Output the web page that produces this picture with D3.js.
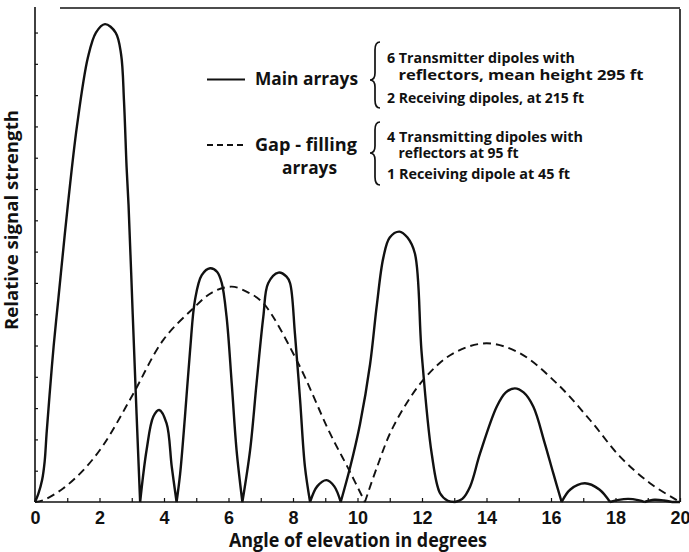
<!DOCTYPE html>
<html>
<head>
<meta charset="utf-8">
<script src="https://cdn.jsdelivr.net/npm/d3@7/dist/d3.min.js"></script>
<style>
  html, body { margin: 0; padding: 0; background: #fff; }
  svg { display: block; }
  text { fill: #111; }
</style>
</head>
<body>
<svg id="chart" width="689" height="552"></svg>
<script>
// ---- data ----
const xTickValues = d3.range(0, 21, 1);
const xTickLabels = [0, 2, 4, 6, 8, 10, 12, 14, 16, 18, 20];
const yTickValues = d3.range(1, 16, 1);

// Main arrays (solid)
const mainX = [0, 0.1, 0.22, 0.3, 0.36, 0.45, 0.58, 0.72, 0.87, 1.02, 1.3, 1.64, 1.89, 2.17, 2.5, 2.67, 2.76, 2.84, 2.9, 3.03, 3.15, 3.26,
  3.46, 3.67, 3.85, 4.08, 4.24, 4.39,
  4.5, 4.65, 4.81, 4.96, 5.17, 5.43, 5.65, 5.79, 5.94, 6.1, 6.25, 6.43,
  6.67, 6.87, 7.08, 7.23, 7.55, 7.8, 7.91, 8.06, 8.22, 8.37, 8.53,
  8.75, 9.04, 9.28, 9.48,
  9.77, 10.08, 10.39, 10.6, 10.8, 11.0, 11.3, 11.55, 11.78, 11.99, 12.3, 12.56, 12.8, 13.02,
  13.25, 13.49, 13.8, 14.32, 14.6, 14.88, 15.15, 15.45, 15.8, 16.07, 16.33,
  16.6, 17.05, 17.5, 17.83,
  18.1, 18.4, 18.7, 18.9,
  19.2, 19.5, 19.75, 20];
const mainY = [0, 0.25, 0.7, 1.3, 2.2, 3.4, 5.0, 6.45, 8.0, 9.5, 12.0, 14.2, 15.0, 15.27, 15.0, 14.3, 12.8, 10.7, 9.5, 6.0, 2.8, 0,
  1.66, 2.73, 2.94, 2.51, 1.13, 0,
  0.9, 2.73, 4.86, 6.45, 7.25, 7.47, 7.35, 7.0, 5.92, 3.79, 1.66, 0,
  1.66, 3.79, 5.92, 6.99, 7.33, 7.2, 6.99, 5.38, 3.26, 1.13, 0,
  0.5, 0.7, 0.5, 0,
  1.1, 2.5, 4.4, 6.3, 7.8, 8.45, 8.64, 8.45, 7.94, 4.75, 1.55, 0.28, 0.04, 0,
  0.1, 0.49, 1.55, 3.05, 3.5, 3.63, 3.5, 3.05, 1.9, 0.92, 0,
  0.4, 0.6, 0.4, 0,
  0.07, 0.1, 0.06, 0,
  0.07, 0.05, 0, 0];

// Gap-filling arrays (dashed)
const gapX = [0, 0.26, 0.88, 1.5, 2.12, 3.0, 3.98, 4.91, 5.5, 6.1, 6.6, 7.08, 8.11, 9.15, 9.7, 10.23,
  10.6, 11.11, 12.04, 12.97, 14.0, 15.04, 16.18, 17.21, 18.14, 19.07, 19.9, 20];
const gapY = [0, 0.06, 0.44, 1.02, 1.82, 3.37, 5.18, 6.19, 6.7, 6.88, 6.7, 6.35, 4.54, 2.19, 1.1, 0,
  1.1, 2.41, 3.9, 4.75, 5.07, 4.75, 3.79, 2.62, 1.45, 0.6, 0.06, 0];

// ---- layout ----
const svg = d3.select("#chart");
const mLeft = 35, mRight = 680, mBottom = 502, mTop = 7.5;
const x = d3.scaleLinear().domain([0, 20]).range([mLeft, mRight]);
const y = d3.scaleLinear().domain([0, 15.8]).range([mBottom, mTop]);

// frame
const frame = svg.append("g").attr("stroke", "#111").attr("stroke-width", 1.6).attr("fill", "none");
frame.append("line").attr("x1", mLeft).attr("x2", mLeft).attr("y1", 7).attr("y2", mBottom);
frame.append("line").attr("x1", mLeft).attr("x2", mRight).attr("y1", mBottom).attr("y2", mBottom);
frame.append("line").attr("x1", mRight).attr("x2", mRight).attr("y1", 9).attr("y2", mBottom);
frame.append("line").attr("x1", 60).attr("x2", mRight).attr("y1", 8).attr("y2", 8);

// x axis
const xAxis = d3.axisBottom(x)
  .tickValues(xTickValues)
  .tickSizeInner(-4).tickSizeOuter(0).tickPadding(9)
  .tickFormat(d => xTickLabels.includes(d) ? String(d) : "");
const gx = svg.append("g").attr("transform", `translate(0,${mBottom})`).call(xAxis);
gx.select(".domain").remove();
gx.selectAll(".tick line").attr("stroke", "#111").attr("stroke-width", 1.2);
gx.selectAll(".tick text")
  .attr("font-family", "'Liberation Sans', Arial, sans-serif")
  .attr("font-weight", "bold").attr("font-size", 18).attr("fill", "#111");

// y axis (ticks only)
const yAxis = d3.axisLeft(y).tickValues(yTickValues).tickSizeInner(-3).tickSizeOuter(0).tickFormat("");
const gy = svg.append("g").attr("transform", `translate(${mLeft},0)`).call(yAxis);
gy.select(".domain").remove();
gy.selectAll(".tick line").attr("stroke", "#111").attr("stroke-width", 1.2);

// axis titles
svg.append("text")
  .attr("x", 229).attr("y", 546.5)
  .attr("font-family", "'Open Sans', 'Liberation Sans', sans-serif")
  .attr("font-weight", 700).attr("font-size", 19)
  .attr("textLength", 258).attr("lengthAdjust", "spacingAndGlyphs")
  .text("Angle of elevation in degrees");
svg.append("text")
  .attr("transform", "translate(18,330) rotate(-90)")
  .attr("font-family", "'Open Sans', 'Liberation Sans', sans-serif")
  .attr("font-weight", 700).attr("font-size", 18)
  .attr("textLength", 220).attr("lengthAdjust", "spacingAndGlyphs")
  .text("Relative signal strength");

// curves: split at zero points so cusps stay sharp
function segments(xs, ys) {
  const segs = [];
  let cur = [[xs[0], ys[0]]];
  for (let i = 1; i < xs.length; i++) {
    cur.push([xs[i], ys[i]]);
    if (ys[i] === 0 && i < xs.length - 1) { segs.push(cur); cur = [[xs[i], ys[i]]]; }
  }
  if (cur.length > 1) segs.push(cur);
  return segs;
}
const line = d3.line().x(d => x(d[0])).y(d => y(d[1])).curve(d3.curveCatmullRom.alpha(0.5));

svg.append("path")
  .attr("d", segments(gapX, gapY).map(s => line(s)).join(""))
  .attr("fill", "none").attr("stroke", "#111").attr("stroke-width", 1.9)
  .attr("stroke-dasharray", "8,5");

svg.append("path")
  .attr("d", segments(mainX, mainY).map(s => line(s)).join(""))
  .attr("fill", "none").attr("stroke", "#111").attr("stroke-width", 2.4)
  .attr("stroke-linejoin", "round");

// legend
const lg = svg.append("g");
const lf = "'Open Sans', 'Liberation Sans', sans-serif";
lg.append("line").attr("x1", 207).attr("x2", 245).attr("y1", 79.5).attr("y2", 79.5)
  .attr("stroke", "#111").attr("stroke-width", 2.2);
lg.append("line").attr("x1", 207).attr("x2", 245).attr("y1", 145).attr("y2", 145)
  .attr("stroke", "#111").attr("stroke-width", 1.8).attr("stroke-dasharray", "6,4");

function ltext(tx, ty, size, weight, len, str) {
  lg.append("text").attr("x", tx).attr("y", ty)
    .attr("font-family", lf).attr("font-weight", weight).attr("font-size", size)
    .attr("textLength", len).attr("lengthAdjust", "spacingAndGlyphs")
    .text(str);
}
ltext(255, 85, 18, 700, 103, "Main arrays");
ltext(255, 151, 18, 700, 102, "Gap - filling");
ltext(282, 173.5, 18, 700, 55, "arrays");

ltext(387, 62.7, 14, 700, 188, "6 Transmitter dipoles with");
ltext(398.5, 80, 14, 700, 245, "reflectors, mean height 295 ft");
ltext(387, 103.3, 14, 700, 197, "2 Receiving dipoles, at 215 ft");
ltext(387, 141.7, 14, 700, 196, "4 Transmitting dipoles with");
ltext(398.5, 157.7, 14, 700, 120, "reflectors at 95 ft");
ltext(387, 179.3, 14, 700, 183, "1 Receiving dipole at 45 ft");

// braces
function brace(xTip, y0, yMid, y1) {
  const xl = xTip + 5, xr = xTip + 10;
  return `M${xr},${y0} Q${xl},${y0} ${xl},${y0 + 8} L${xl},${yMid - 7} Q${xl},${yMid} ${xTip},${yMid}` +
         ` Q${xl},${yMid} ${xl},${yMid + 7} L${xl},${y1 - 8} Q${xl},${y1} ${xr},${y1}`;
}
lg.append("path").attr("d", brace(370, 42, 80, 108))
  .attr("fill", "none").attr("stroke", "#111").attr("stroke-width", 1.7);
lg.append("path").attr("d", brace(370, 122, 153, 185))
  .attr("fill", "none").attr("stroke", "#111").attr("stroke-width", 1.7);
</script>
</body>
</html>
